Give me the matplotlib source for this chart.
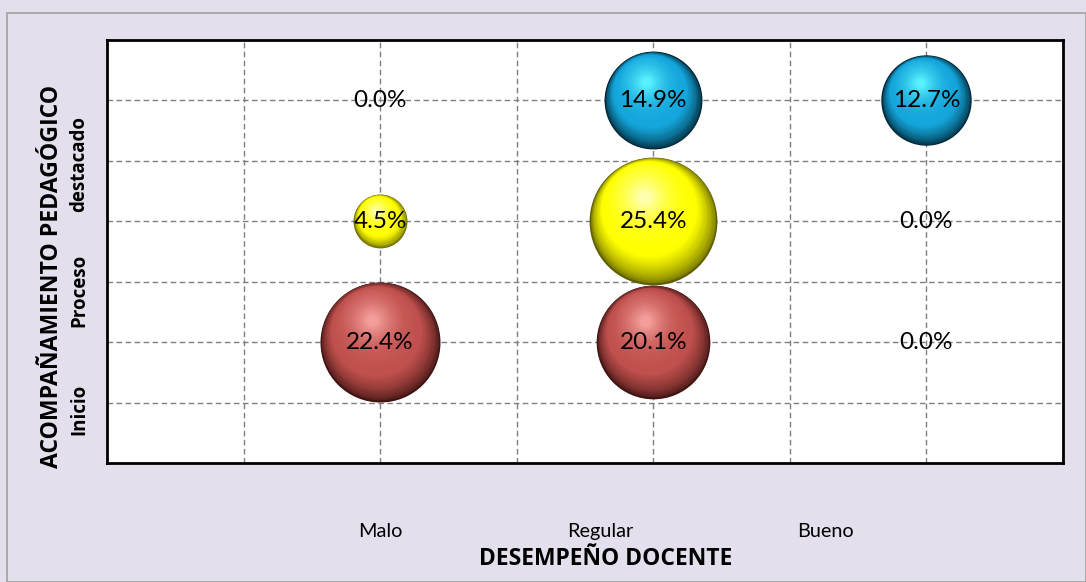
import matplotlib
matplotlib.use("Agg")
import matplotlib.pyplot as plt
import matplotlib.transforms as mtransforms
from matplotlib.patches import Rectangle
import numpy as np

plt.rcParams['font.family'] = ['Lato', 'DejaVu Sans']

# data
desempeno = ['Malo', 'Regular', 'Bueno']
acompanamiento = ['Inicio', 'Proceso', 'destacado']
inicio = [22.4, 20.1, 0.0]
proceso = [4.5, 25.4, 0.0]
destacado = [0.0, 14.9, 12.7]
filas = [inicio, proceso, destacado]

# sphere colours per row: dark edge, base, highlight
colores = [
    ('#3e1312', '#c0504d', '#f7a29e'),
    ('#5e5e00', '#ffff00', '#ffffb8'),
    ('#00202e', '#14a6dc', '#5cf4ff'),
]

negrita = dict(family=['Open Sans', 'DejaVu Sans'], fontweight='bold')

fig = plt.figure(figsize=(10.86, 5.82), dpi=100)
fig.patch.set_facecolor('#e4dfec')
fig.patches.append(Rectangle((7 / 1086, 0), 1 - 7 / 1086, 1 - 13 / 582,
                             transform=fig.transFigure, fill=False,
                             edgecolor='#a0a0a0', lw=1.2))
ax = fig.add_axes([107 / 1086, 1 - 463 / 582, 956 / 1086, 423 / 582])
ax.set_facecolor('white')
ax.set_xlim(0, 3.5)
ax.set_ylim(0, 3.5)

grid = np.arange(0.5, 3.5, 0.5)
for g in grid:
    ax.axvline(g, color='#7f7f7f', ls=(0, (4, 2.5)), lw=1, zorder=1)
    ax.axhline(g, color='#7f7f7f', ls=(0, (4, 2.5)), lw=1, zorder=1)

for s in ax.spines.values():
    s.set_linewidth(2)
    s.set_color('black')


def mezcla(c1, c2, t):
    a = np.array(matplotlib.colors.to_rgb(c1))
    b = np.array(matplotlib.colors.to_rgb(c2))
    return a + (b - a) * min(max(t, 0), 1)


escala = 92.0 / np.sqrt(25.4)  # diameter in points for value
n = 45
direc = np.array([-0.35, 0.94])
for j, fila in enumerate(filas):
    oscuro, base, brillo = colores[j]
    for i, v in enumerate(fila):
        x, y = i + 1, j + 1
        if v > 0:
            d = escala * np.sqrt(v)
            R = d / 2
            for k in range(n):
                t = k / n * 0.93
                f = 1 - t
                if t < 0.25:
                    c = mezcla(oscuro, base, (t / 0.25) ** 0.6)
                else:
                    c = mezcla(base, brillo, ((t - 0.25) / 0.68) ** 1.8)
                dx, dy = direc * R * min(0.8 * t, 0.4)
                tr = ax.transData + mtransforms.ScaledTranslation(
                    dx / 72, dy / 72, fig.dpi_scale_trans)
                ax.plot([x], [y], 'o', ms=d * f, color=c, mec='none',
                        transform=tr, zorder=3 + k * 0.01)
        ax.text(x, y, f'{v:.1f}%', ha='center', va='center', fontsize=17.5,
                color='black', zorder=10)

ax.tick_params(length=0)
ax.set_xticks([1.0, 1.805, 2.63])
ax.set_xticklabels(desempeno, fontsize=14.3)
ax.tick_params(axis='x', pad=43)
ax.set_yticks([0.44, 1.43, 2.47])
ax.set_yticklabels(acompanamiento, fontsize=13.5, rotation=90, va='center',
                   **negrita)
ax.tick_params(axis='y', pad=13)
ax.set_xlabel('DESEMPEÑO DOCENTE', fontsize=16.5, **negrita)
ax.xaxis.set_label_coords(0.522, -0.198)
ax.set_ylabel('ACOMPAÑAMIENTO PEDAGÓGICO', fontsize=16.6, **negrita)
ax.yaxis.set_label_coords(-0.045, 0.44)

fig.savefig('out.png', dpi=100, facecolor=fig.get_facecolor())
